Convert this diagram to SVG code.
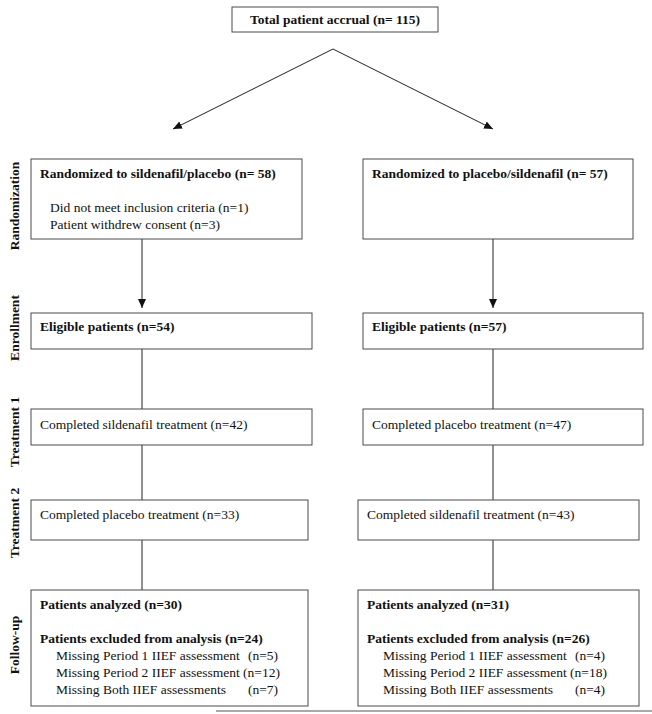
<svg xmlns="http://www.w3.org/2000/svg" width="652" height="714" viewBox="0 0 652 714">
<style>
.box{fill:#fff;stroke:#4a4a4a;stroke-width:1}
.b{font-family:"Liberation Serif","Times New Roman",serif;font-size:13.5px;font-weight:bold;fill:#111}
.r{font-family:"Liberation Serif","Times New Roman",serif;font-size:13.5px;fill:#111}
.side{font-family:"Liberation Serif","Times New Roman",serif;font-size:13.5px;font-weight:bold;fill:#111;text-anchor:middle}
.ln{stroke:#222;stroke-width:1;fill:none}
</style>
<defs>
<marker id="ah" markerUnits="userSpaceOnUse" markerWidth="10" markerHeight="10" viewBox="0 0 10 10" refX="9" refY="5" orient="auto">
<path d="M0,1 L9,5 L0,9 Z" fill="#111"/>
</marker>
</defs>
<rect width="652" height="714" fill="#fff"/>

<g id="side-labels">
<text class="side" transform="translate(19,206) rotate(-90)">Randomization</text>
<text class="side" transform="translate(19,328) rotate(-90)">Enrollment</text>
<text class="side" transform="translate(19,432) rotate(-90)">Treatment 1</text>
<text class="side" transform="translate(19,523) rotate(-90)">Treatment 2</text>
<text class="side" transform="translate(19,645) rotate(-90)">Follow-up</text>
</g>

<g id="connectors">
<path class="ln" d="M333,49 L173,129" marker-end="url(#ah)"/>
<path class="ln" d="M333,49 L493,129" marker-end="url(#ah)"/>
<path class="ln" d="M142,239 L142,308" marker-end="url(#ah)"/>
<path class="ln" d="M493,239 L493,308" marker-end="url(#ah)"/>
<path class="ln" d="M142,349 L142,409"/>
<path class="ln" d="M493,349 L493,409"/>
<path class="ln" d="M142,445 L142,500"/>
<path class="ln" d="M493,445 L493,500"/>
<path class="ln" d="M142,540 L142,590"/>
<path class="ln" d="M493,540 L493,590"/>
</g>

<g id="total">
<rect class="box" x="232" y="7" width="206" height="25"/>
<text class="b" x="335" y="24" text-anchor="middle">Total patient accrual (n= 115)</text>
</g>

<g id="rand-left">
<rect class="box" x="31" y="159" width="271" height="80"/>
<text class="b" x="40" y="178">Randomized to sildenafil/placebo (n= 58)</text>
<text class="r" x="50" y="212">Did not meet inclusion criteria (n=1)</text>
<text class="r" x="50" y="229">Patient withdrew consent (n=3)</text>
</g>
<g id="rand-right">
<rect class="box" x="363" y="159" width="270" height="80"/>
<text class="b" x="372" y="178">Randomized to placebo/sildenafil (n= 57)</text>
</g>

<g id="enroll-left">
<rect class="box" x="31" y="313" width="281" height="36"/>
<text class="b" x="40" y="331">Eligible patients (n=54)</text>
</g>
<g id="enroll-right">
<rect class="box" x="363" y="313" width="280" height="36"/>
<text class="b" x="372" y="331">Eligible patients (n=57)</text>
</g>

<g id="t1-left">
<rect class="box" x="31" y="409" width="281" height="36"/>
<text class="r" x="40" y="429">Completed sildenafil treatment (n=42)</text>
</g>
<g id="t1-right">
<rect class="box" x="363" y="409" width="280" height="36"/>
<text class="r" x="372" y="429">Completed placebo treatment (n=47)</text>
</g>

<g id="t2-left">
<rect class="box" x="31" y="500" width="277" height="40"/>
<text class="r" x="40" y="519">Completed placebo treatment (n=33)</text>
</g>
<g id="t2-right">
<rect class="box" x="358" y="500" width="281" height="40"/>
<text class="r" x="367" y="519">Completed sildenafil treatment (n=43)</text>
</g>

<g id="fu-left">
<rect class="box" x="31" y="590" width="277" height="116"/>
<text class="b" x="40" y="609">Patients analyzed (n=30)</text>
<text class="b" x="40" y="643">Patients excluded from analysis (n=24)</text>
<text class="r" x="56" y="660">Missing Period 1 IIEF assessment</text>
<text class="r" x="278" y="660" text-anchor="end">(n=5)</text>
<text class="r" x="56" y="677">Missing Period 2 IIEF assessment (n=12)</text>
<text class="r" x="56" y="694">Missing Both IIEF assessments</text>
<text class="r" x="278" y="694" text-anchor="end">(n=7)</text>
</g>
<g id="fu-right">
<rect class="box" x="358" y="590" width="281" height="116"/>
<text class="b" x="367" y="609">Patients analyzed (n=31)</text>
<text class="b" x="367" y="643">Patients excluded from analysis (n=26)</text>
<text class="r" x="383" y="660">Missing Period 1 IIEF assessment</text>
<text class="r" x="605" y="660" text-anchor="end">(n=4)</text>
<text class="r" x="383" y="677">Missing Period 2 IIEF assessment (n=18)</text>
<text class="r" x="383" y="694">Missing Both IIEF assessments</text>
<text class="r" x="605" y="694" text-anchor="end">(n=4)</text>
</g>

<line x1="216" y1="711" x2="652" y2="711" stroke="#555" stroke-width="1"/>
</svg>
